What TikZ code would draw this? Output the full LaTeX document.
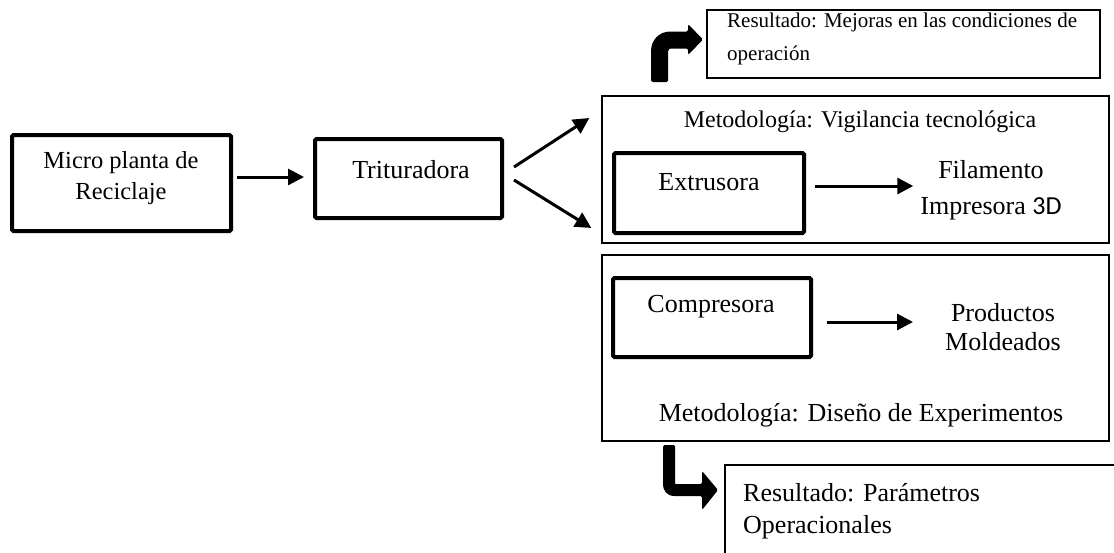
\documentclass[tikz,border=0pt]{standalone}
\usepackage{fontspec}
\setmainfont{Liberation Serif}
\newfontfamily\calib{Carlito}
\usetikzlibrary{arrows.meta}
\begin{document}
\begin{tikzpicture}[x=1pt,y=-1pt,
  thickbox/.style={draw, line width=4pt, rounded corners=1.5pt, inner sep=0pt},
  thinbox/.style={draw, line width=1.3pt, inner sep=0pt},
  txt/.style={inner sep=0pt, font=\fontsize{26}{31}\selectfont, align=center},
  arr/.style={line width=3pt, -{Triangle[length=16pt,width=16pt]}},
  bent/.style={fill=black}
]
\useasboundingbox (0,0) rectangle (1114,552);
\clip (0,0) rectangle (1114,552);

% left chain
\node[thickbox, minimum width=219pt, minimum height=96pt] (micro) at (121.5,183) {};
\node[txt, font=\fontsize{24.5}{31}\selectfont] (microT) at (121,178.5) {Micro planta de\\Reciclaje};
\node[thickbox, minimum width=187pt, minimum height=79pt] (trit) at (408.5,178.5) {};
\node[txt] (tritT) at (411,170) {Trituradora};

\draw[arr] ([shift={(4,-6)}]micro.east) -- ([shift={(-9,-1.5)}]trit.west);

% upper panel
\node[thinbox, minimum width=507pt, minimum height=147pt] (box1) at (855.5,169.5) {};
\node[txt, font=\fontsize{24}{28}\selectfont] (met1) at (860,122) {Metodología: Vigilancia tecnológica};
\node[thickbox, minimum width=190pt, minimum height=80pt] (ext) at (709,193) {};
\node[txt] (extT) at (709,182) {Extrusora};
\node[txt, font=\fontsize{26}{36}\selectfont] (fil) at (991,190) {Filamento\\Impresora {\calib 3D}};
\draw[arr] ([shift={(9,-7)}]ext.east) -- ([shift={(-7,-4)}]fil.west);

% lower panel
\node[thinbox, minimum width=507pt, minimum height=186pt] (box2) at (855.5,348) {};
\node[thickbox, minimum width=198pt, minimum height=79pt] (comp) at (712,317.5) {};
\node[txt] (compT) at (711,307) {Compresora};
\node[txt, font=\fontsize{26}{29}\selectfont] (prod) at (1003,327.5) {Productos\\Moldeados};
\draw[arr] ([shift={(14,4.5)}]comp.east) -- ([shift={(-32,-5.5)}]prod.west);
\node[txt] (met2) at (861,415) {Metodología: Diseño de Experimentos};

% split arrows
\draw[arr] ([shift={(10,-11.5)}]trit.east) -- ([shift={(-12,-51.5)}]box1.west);
\draw[arr] ([shift={(10,1.5)}]trit.east) -- ([shift={(-10,58.5)}]box1.west);

% result boxes
\node[thinbox, minimum width=393pt, minimum height=68pt] (res1) at (903.5,44) {};
\node[anchor=west, align=left, inner sep=0pt, font=\fontsize{21}{33}\selectfont] (res1T) at (727,38.5) {Resultado: Mejoras en las condiciones de\\operación};
\node[thinbox, minimum width=420pt, minimum height=110pt] (res2) at (935,520) {};
\node[anchor=west, align=left, inner sep=0pt, font=\fontsize{26}{32}\selectfont] (res2T) at (743,511) {Resultado: Parámetros\\Operacionales};

% bent arrows
\fill[bent, rounded corners=1.5pt] (651,82) -- (651,53) .. controls (651,40) and (659,31.5) .. (672,31.5) -- (688,31.5) -- (688,24) -- (703,39.5) -- (688,55) -- (688,48.5) -- (672,48.5) .. controls (669.5,48.5) and (668,50) .. (668,53) -- (668,82) -- cycle;
\fill[bent, rounded corners=1.5pt] (663,445) -- (663,482) .. controls (663,491) and (667,496) .. (676,496) -- (702,496) -- (702,510) -- (718,490) -- (702,471) -- (702,484) -- (677,484) .. controls (676,484) and (675,483) .. (675,482) -- (675,445) -- cycle;
\end{tikzpicture}
\end{document}
